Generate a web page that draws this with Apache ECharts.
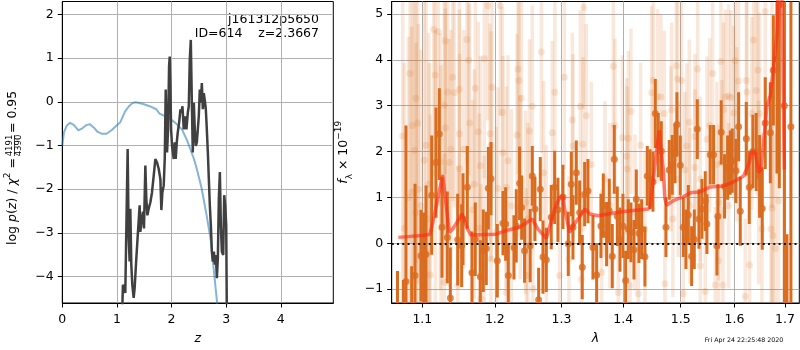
<!DOCTYPE html>
<html><head><meta charset="utf-8">
<script src="https://cdn.jsdelivr.net/npm/echarts@6/dist/echarts.min.js"></script>
<style>html,body{margin:0;padding:0;background:#fff}#c{width:800px;height:350px}</style>
</head><body><div id="c"></div>
<script>
// ---------- left panel: log p(z) ----------
const zTicks = [0, 1, 2, 3, 4];
const logpTicks = [-4, -3, -2, -1, 0, 1, 2];
const zBlue = [0.0,0.03,0.08,0.14,0.21,0.29,0.35,0.43,0.50,0.57,0.64,0.72,0.81,0.90,0.96,1.06,1.15,1.22,1.27,1.33,1.39,1.48,1.60,1.72,1.78,1.85,1.94,2.06,2.19,2.28,2.41,2.46,2.55,2.64,2.72,2.78,2.83,2.86];
const pBlue = [-1.01,-0.70,-0.55,-0.48,-0.53,-0.65,-0.62,-0.54,-0.51,-0.58,-0.68,-0.73,-0.73,-0.65,-0.58,-0.47,-0.22,-0.10,-0.04,-0.01,-0.02,-0.05,-0.10,-0.17,-0.27,-0.31,-0.36,-0.47,-0.63,-0.87,-1.31,-1.53,-1.98,-2.59,-3.19,-3.95,-4.56,-5.0];
const zDark = [1.092,1.110,1.135,1.153,1.183,1.196,1.214,1.232,1.245,1.263,1.281,1.306,1.324,1.355,1.385,1.416,1.428,1.447,1.477,1.495,1.520,1.538,1.557,1.581,1.612,1.642,1.673,1.703,1.734,1.765,1.795,1.813,1.832,1.856,1.875,1.893,1.905,1.917,1.936,1.954,1.966,1.979,1.991,2.009,2.040,2.058,2.076,2.095,2.113,2.138,2.162,2.180,2.199,2.223,2.248,2.272,2.297,2.315,2.333,2.352,2.370,2.388,2.407,2.425,2.443,2.462,2.480,2.498,2.517,2.535,2.554,2.572,2.590,2.609,2.627,2.645,2.664,2.682,2.700,2.719,2.737,2.755,2.774,2.792,2.810,2.829,2.847,2.865,2.884,2.902,2.920,2.945,2.963,2.982,3.000,3.012];
const pDark = [-5.0,-4.19,-4.17,-4.38,-4.38,-1.08,-3.05,-3.66,-2.45,-3.73,-4.19,-4.49,-4.27,-3.58,-2.98,-2.37,-2.98,-2.75,-2.52,-2.90,-1.46,-2.22,-2.60,-2.45,-2.30,-2.07,-1.69,-1.31,-1.39,-1.54,-1.77,-2.48,-2.07,-1.92,-1.31,0.28,-0.63,-1.16,-0.63,0.81,1.04,0.36,-0.63,-1.01,-1.31,-0.93,-1.31,-0.93,-0.70,-0.48,-0.17,-0.25,-0.10,-0.63,-0.33,-0.63,-0.25,-0.10,0.96,1.42,0.05,-1.16,-0.02,-0.63,-1.01,-0.93,-0.63,-0.33,0.28,-0.02,0.43,-0.17,0.20,0.02,-0.17,-0.63,-1.16,-1.77,-2.37,-2.83,-3.43,-3.66,-3.43,-3.73,-3.51,-4.04,-3.58,-2.22,-1.61,-2.83,-3.43,-3.51,-2.14,-2.37,-2.83,-5.0];

// ---------- right panel: spectrum ----------
const lamTicks = [1.1, 1.2, 1.3, 1.4, 1.5, 1.6, 1.7];
const fluxTicks = [-1, 0, 1, 2, 3, 4, 5];
const lightWave = [1.0744,1.0764,1.0816,1.0838,1.0860,1.0869,1.0895,1.0917,1.0917,1.0939,
 1.0948,1.0982,1.1026,1.1049,1.1084,1.1093,1.1106,1.1150,1.1173,1.1173,
 1.1214,1.1241,1.1250,1.1294,1.1294,1.1308,1.1308,1.1339,1.1362,1.1385,
 1.1408,1.1431,1.1477,1.1500,1.1500,1.1504,1.1559,1.1605,1.1629,1.1643,
 1.1684,1.1708,1.1722,1.1764,1.1779,1.1793,1.1803,1.1850,1.1850,1.1898,
 1.1931,1.1945,1.1945,1.1960,
 1.2021,1.2045,1.2079,1.2109,1.2118,1.2167,1.2167,1.2191,1.2240,1.2323,
 1.2338,1.2353,1.2372,1.2388,1.2452,1.2462,1.2487,1.2510,1.2552,1.2562,
 1.2689,1.2724,1.2765,1.2857,1.2898,1.2970,1.3044,1.3117,1.3170,1.3180,
 1.3297,1.3313,1.3339,1.3350,1.3393,1.3473,
 1.3641,1.3696,1.3778,1.3834,1.3861,1.3917,1.3984,1.4057,1.4068,1.4085,
 1.4113,1.4130,1.4198,1.4255,1.4295,1.4369,1.4485,1.4514,1.4589,1.4648,
 1.4706,1.4718,1.4825,1.4836,1.4860,1.4920,1.4944,1.4956,1.5016,1.5046,
 1.5076,1.5106,1.5155,1.5167,1.5258,1.5258,1.5307,
 1.5356,1.5356,1.5448,1.5479,1.5529,1.5585,1.5635,1.5666,1.5698,1.5698,
 1.5741,1.5760,1.5779,1.5792,1.5823,1.5887,1.5887,1.5931,1.5983,1.6014,
 1.6047,1.6079,1.6208,1.6228,1.6241,1.6292,1.6337,1.6370,1.6423,1.6456,
 1.6469,1.6489,1.6535,1.6602,1.6716,1.6736,1.6736,1.6756,1.6804,1.6870];
const lightFlux = [2.34,0.33,1.00,3.70,1.12,2.57,2.03,3.16,0.67,2.62,
 1.18,0.82,1.81,2.14,1.29,0.53,-0.69,4.66,3.67,1.54,
 4.61,1.78,0.88,3.01,-0.85,4.41,2.52,3.30,1.76,2.05,
 3.62,3.28,-0.92,3.36,2.39,1.63,2.05,4.44,3.99,2.62,
 0.73,1.29,3.38,2.43,0.33,1.69,-1.21,4.02,-0.49,5.18,
 2.39,2.12,-0.34,3.40,
 0.24,1.20,5.18,2.85,1.98,1.22,-1.07,1.80,0.82,2.36,
 3.80,3.55,1.22,3.16,0.89,-0.70,0.53,2.45,2.99,-0.99,
 4.17,1.54,0.24,2.41,3.29,-0.70,3.62,-0.34,2.69,2.12,
 2.98,-0.78,2.16,5.14,2.78,1.72,
 -0.63,1.40,0.82,3.86,2.56,-1.07,2.30,1.90,1.62,2.29,
 -0.92,2.88,0.67,-1.10,2.14,0.31,3.28,3.55,3.20,3.19,
 2.83,-0.88,2.06,2.91,0.53,3.87,3.58,1.40,3.55,-1.10,
 1.60,2.12,2.64,0.82,2.33,1.65,3.80,
 1.40,-0.49,-1.05,2.27,2.57,3.70,-0.91,1.72,0.89,-0.38,
 3.96,1.76,-0.91,2.91,3.19,3.21,0.82,3.18,2.84,3.98,
 2.38,3.54,-1.16,3.55,3.30,-0.47,2.83,4.43,3.33,3.78,
 1.11,2.83,0.31,5.05,0.31,3.17,0.77,0.17,-0.11,0.93];
const lightErr = [3.8,3.6,3.5,3.7,3.6,3.8,3.5,3.6,3.7,3.5,
 3.6,3.4,3.5,3.6,3.3,3.4,3.5,3.0,2.9,3.1,
 2.9,2.8,3.0,2.7,2.8,2.9,2.6,2.8,2.7,2.6,
 2.7,2.5,2.6,2.6,2.7,2.5,2.6,2.7,2.5,2.6,
 2.4,2.5,2.6,2.4,2.5,2.4,2.5,2.6,2.4,2.5,
 2.4,2.5,2.3,2.4,
 2.3,2.2,2.4,2.3,2.1,2.2,2.0,2.3,2.1,2.2,
 2.3,2.2,2.0,2.1,2.0,1.9,2.1,2.0,2.2,1.9,
 2.2,2.0,1.9,2.0,2.1,1.8,2.0,1.8,1.9,2.0,
 2.1,1.8,1.9,2.2,2.0,1.8,
 1.8,1.7,1.8,2.0,1.9,1.7,1.8,1.7,1.8,1.9,
 1.7,1.8,1.7,1.6,1.8,1.7,1.9,1.8,1.9,1.8,
 1.8,1.7,1.8,1.9,1.7,1.9,1.8,1.7,1.8,1.6,
 1.7,1.8,1.8,1.7,1.8,1.7,1.9,
 1.8,1.7,1.6,1.8,1.9,2.0,1.7,1.8,1.7,1.6,
 2.0,1.8,1.7,1.9,1.9,2.0,1.8,1.9,1.9,2.0,
 1.9,2.0,1.7,2.1,2.0,1.8,2.1,2.2,2.1,2.2,
 2.0,2.2,2.1,2.4,2.3,2.4,2.3,2.4,2.5,2.6];
const darkWave = [1.0677,1.0753,1.0786,1.0860,1.0904,1.0982,1.1018,1.1049,1.1124,1.1182,
 1.1227,1.1263,1.1335,1.1376,1.1477,1.1532,1.1550,1.1610,1.1675,1.1722,
 1.1793,1.1835,1.1878,1.1907,1.1945,1.2036,1.2118,1.2157,1.2196,1.2279,
 1.2313,1.2362,1.2393,1.2436,1.2520,1.2552,1.2592,1.2648,1.2673,1.2714,
 1.2765,1.2841,1.2893,1.2944,1.3023,1.3106,1.3154,1.3180,1.3233,1.3286,
 1.3328,1.3366,1.3419,1.3500,1.3560,1.3630,1.3669,1.3723,1.3767,1.3817,
 1.3850,1.3900,1.3945,1.3995,1.4040,1.4085,1.4130,1.4181,1.4221,1.4266,
 1.4312,1.4369,1.4410,1.4456,1.4508,1.4549,1.4601,1.4654,1.4736,1.4795,
 1.4848,1.4896,1.4932,1.4992,1.5046,1.5094,1.5137,1.5197,1.5246,1.5301,
 1.5331,1.5386,1.5448,1.5479,1.5541,1.5603,1.5666,1.5685,1.5747,1.5810,
 1.5868,1.5919,1.5957,1.6027,1.6079,1.6111,1.6228,1.6286,1.6357,1.6423,
 1.6489,1.6542,1.6602,1.6703,1.6764,1.6837,1.6884,1.6986,1.7040,1.7121];
const darkFlux = [-2.0,-2.3,-0.83,-1.9,-0.70,-0.27,-0.93,-0.24,1.05,1.76,
 2.38,0.35,0.13,-1.19,0.08,-0.05,0.53,1.22,-0.64,0.09,
 -0.73,-0.16,-0.11,1.20,1.41,-0.38,0.44,0.42,-0.70,-0.09,
 0.38,1.31,0.78,-0.16,-0.05,1.47,0.75,-1.23,1.18,-0.30,
 -0.36,0.57,1.22,0.73,1.01,-0.01,1.29,0.35,1.54,0.67,
 -0.52,1.07,1.14,-0.09,-0.69,0.38,0.82,0.20,0.71,-0.28,
 1.83,0.59,0.08,0.38,-0.81,0.31,0.24,-0.14,0.96,0.22,
 0.31,-0.29,1.47,1.40,1.34,2.83,2.14,2.01,0.35,1.60,
 1.71,1.96,2.59,1.70,0.35,0.09,0.62,-0.28,0.09,2.49,
 0.53,0.75,0.92,0.42,1.93,1.93,-0.05,0.59,2.42,1.24,
 1.65,1.76,1.80,1.58,2.54,0.70,2.28,1.22,2.00,1.99,
 1.46,0.76,2.62,2.41,3.77,4.02,5.20,3.00,-2.0,2.54];
const darkErr = [1.4,1.5,3.4,1.4,2.0,1.0,1.6,1.5,1.3,1.2,
 1.0,1.1,1.0,1.1,1.0,0.9,1.0,0.9,0.9,0.8,
 0.8,0.9,0.8,0.9,0.8,0.8,0.7,0.8,0.7,0.7,
 0.8,0.8,0.7,0.7,0.8,0.65,0.7,0.7,0.7,0.8,
 0.7,0.7,0.8,0.7,0.7,0.7,0.7,0.7,0.7,0.7,
 0.7,0.7,0.7,0.7,0.7,0.7,0.7,0.7,0.7,0.7,
 0.75,0.65,0.7,0.7,0.65,0.65,0.65,0.65,0.65,0.65,
 0.65,0.65,0.65,0.65,0.65,0.75,0.7,0.65,0.65,0.65,
 0.65,0.65,0.7,0.65,0.65,0.65,0.65,0.65,0.65,0.65,
 0.65,0.65,0.65,0.65,0.65,0.65,0.65,0.7,0.7,0.7,
 0.7,0.7,0.7,0.7,0.75,0.75,0.8,0.8,0.8,0.85,
 0.9,0.9,1.0,1.1,1.2,2.5,4.0,4.5,2.2,5.0];
const modelWave = [1.0688,1.1000,1.1102,1.1159,1.1272,1.1362,1.1408,1.1537,1.1614,1.1661,1.2016,1.2167,1.2362,1.2552,1.2638,1.2765,1.2893,1.2970,1.3023,1.3049,1.3127,1.3180,1.3297,1.3371,1.3446,1.3582,1.3750,1.3973,1.4198,1.4427,1.4460,1.4514,1.4589,1.4618,1.4648,1.4689,1.4718,1.4748,1.4866,1.5016,1.5197,1.5350,1.5541,1.5792,1.5983,1.6176,1.6273,1.6337,1.6404,1.6469,1.6515,1.6568,1.6635,1.6703,1.6770,1.6837,1.6900,1.6937,1.6958,1.6986];
const modelFlux = [0.13,0.17,0.20,0.60,1.49,0.24,0.31,0.64,0.31,0.18,0.20,0.28,0.35,0.53,0.31,0.11,0.75,1.00,1.04,0.75,0.24,0.38,0.60,0.75,0.64,0.60,0.64,0.69,0.72,0.75,0.80,1.40,2.20,2.46,2.06,1.59,0.97,0.83,0.93,1.00,1.11,1.12,1.23,1.25,1.34,1.47,1.72,2.00,1.98,1.54,1.61,2.20,3.00,3.22,3.86,4.59,7.0,5.3,3.9,1.61];

// ---------- build ----------
const FONT = 'DejaVu Sans';
const FS = 12.5;
const LAM_MIN = 1.0603, LAM_MAX = 1.7294, F_MIN = -1.30, F_MAX = 5.27;
const ln = Math.log;
const minus = v => String(v).replace('-', '\u2212');
const zip2 = (a, b) => a.map((v, i) => [v, b[i]]);
const errData = (w, f, e) => w.map((v, i) => [ln(v), f[i] - e[i], f[i] + e[i]]);
const ptData = (w, f) => w.map((v, i) => [ln(v), f[i]]);

function barRenderer(color, width) {
  return function (params, api) {
    const x = api.value(0);
    const lo = Math.max(api.value(1), F_MIN), hi = Math.min(api.value(2), F_MAX);
    if (hi <= lo) return null;
    const p1 = api.coord([x, lo]), p2 = api.coord([x, hi]);
    return { type: 'line', shape: { x1: p1[0], y1: p1[1], x2: p2[0], y2: p2[1] },
      style: { stroke: color, lineWidth: width } };
  };
}

const tickStyle = { show: true, length: 4.5, lineStyle: { color: '#000', width: 1 } };
const labStyle = { color: '#000', fontFamily: FONT, fontSize: FS };
const splitStyle = { show: true, lineStyle: { color: '#b0b0b0', width: 1 } };
const axLine = { show: true, onZero: false, lineStyle: { color: '#000', width: 1 } };

const DARK = '#d96c1f';
const option = {
  animation: false,
  backgroundColor: '#fff',
  grid: [
    { left: 62.3, top: 1.5, width: 271, height: 302.5, show: true, borderColor: '#000', borderWidth: 1, backgroundColor: 'transparent' },
    { left: 391.7, top: 1.5, width: 407.6, height: 302.5, show: true, borderColor: '#000', borderWidth: 1, backgroundColor: 'transparent' }
  ],
  xAxis: [
    { type: 'value', gridIndex: 0, min: 0, max: 4.96,
      axisLine: axLine,
      axisTick: Object.assign({ customValues: zTicks }, tickStyle),
      axisLabel: Object.assign({ customValues: zTicks, margin: 10.5, formatter: minus }, labStyle),
      splitLine: splitStyle,
      name: 'z', nameLocation: 'middle', nameGap: 29,
      nameTextStyle: { fontFamily: FONT, fontSize: FS, fontStyle: 'italic', color: '#000' } },
    { type: 'value', gridIndex: 1, min: ln(LAM_MIN), max: ln(LAM_MAX),
      axisLine: axLine,
      axisTick: Object.assign({ customValues: lamTicks.map(ln) }, tickStyle),
      axisLabel: Object.assign({ customValues: lamTicks.map(ln), margin: 10.5,
        formatter: v => Math.exp(v).toFixed(1) }, labStyle),
      splitLine: splitStyle,
      name: '\u03bb', nameLocation: 'middle', nameGap: 29,
      nameTextStyle: { fontFamily: FONT, fontSize: FS, fontStyle: 'italic', color: '#000' } }
  ],
  yAxis: [
    { type: 'value', gridIndex: 0, min: -4.61, max: 2.30,
      axisLine: axLine,
      axisTick: Object.assign({ customValues: logpTicks }, tickStyle),
      axisLabel: Object.assign({ customValues: logpTicks, margin: 8.5, formatter: minus }, labStyle),
      splitLine: splitStyle },
    { type: 'value', gridIndex: 1, min: F_MIN, max: F_MAX,
      axisLine: axLine,
      axisTick: Object.assign({ customValues: fluxTicks }, tickStyle),
      axisLabel: Object.assign({ customValues: fluxTicks, margin: 8.5, formatter: minus }, labStyle),
      splitLine: splitStyle,
      name: '{i|f}{sub|\u03bb} \u00d7 10{sup|\u221219}', nameLocation: 'middle', nameGap: 37,
      nameTextStyle: { fontFamily: FONT, fontSize: FS, color: '#000', lineHeight: 20,
        rich: {
          i: { fontFamily: FONT, fontSize: FS, fontStyle: 'italic', lineHeight: 20 },
          sub: { fontFamily: FONT, fontSize: 9, verticalAlign: 'bottom', lineHeight: 20 },
          sup: { fontFamily: FONT, fontSize: 9, verticalAlign: 'top', lineHeight: 20 }
        } } }
  ],
  series: [
    { type: 'line', xAxisIndex: 0, yAxisIndex: 0, data: zip2(zBlue, pBlue), showSymbol: false, clip: true,
      lineStyle: { color: 'rgba(31,119,180,0.55)', width: 2 } },
    { type: 'line', xAxisIndex: 0, yAxisIndex: 0, data: zip2(zDark, pDark), showSymbol: false, clip: true,
      lineStyle: { color: '#404040', width: 2.5 } },
    { type: 'custom', xAxisIndex: 1, yAxisIndex: 1, clip: true, encode: { x: 0, y: [1, 2] },
      data: errData(lightWave, lightFlux, lightErr), renderItem: barRenderer('rgba(217,110,30,0.16)', 3.5) },
    { type: 'scatter', xAxisIndex: 1, yAxisIndex: 1, data: ptData(lightWave, lightFlux), symbolSize: 7, clip: true,
      itemStyle: { color: 'rgba(217,110,30,0.2)' } },
    { type: 'custom', xAxisIndex: 1, yAxisIndex: 1, clip: true, encode: { x: 0, y: [1, 2] },
      data: errData(darkWave, darkFlux, darkErr), renderItem: barRenderer(DARK, 3) },
    { type: 'scatter', xAxisIndex: 1, yAxisIndex: 1, data: ptData(darkWave, darkFlux), symbolSize: 7, clip: true,
      itemStyle: { color: DARK } },
    { type: 'line', xAxisIndex: 1, yAxisIndex: 1, data: ptData(modelWave, modelFlux), showSymbol: false, clip: true,
      lineStyle: { color: 'rgba(255,40,20,0.6)', width: 3.5 },
      markLine: { silent: true, symbol: ['none', 'none'], label: { show: false },
        lineStyle: { color: '#111', width: 2, type: [2, 3.3] }, data: [{ yAxis: 0 }] } }
  ],
  graphic: [
    { type: 'text', x: 319, y: 20, style: { text: 'j161312p5650', fontFamily: FONT, fontSize: FS, fill: '#000', align: 'right', verticalAlign: 'middle' } },
    { type: 'text', x: 319, y: 34, style: { text: 'ID=614    z=2.3667', fontFamily: FONT, fontSize: FS, fill: '#000', align: 'right', verticalAlign: 'middle' } },
    { type: 'text', x: 744, y: 340, style: { text: 'Fri Apr 24 22:25:48 2020', fontFamily: FONT, fontSize: 6.3, fill: '#000', align: 'center', verticalAlign: 'middle' } },
    { type: 'group', x: 12.5, y: 237, rotation: Math.PI / 2, children: [
      { type: 'text', x: 79, y: 0, style: { text: 'log {i|p}({i|z}) / {i|\u03c7}{sup|2} =', fontFamily: FONT, fontSize: FS, fill: '#000', align: 'right', verticalAlign: 'middle', lineHeight: 18,
          rich: { i: { fontFamily: FONT, fontSize: FS, fontStyle: 'italic', lineHeight: 18 }, sup: { fontFamily: FONT, fontSize: 9, verticalAlign: 'top', lineHeight: 18 } } } },
      { type: 'text', x: 91.5, y: -2.5, style: { text: '4191', fontFamily: FONT, fontSize: 8.5, fill: '#000', align: 'center', verticalAlign: 'middle' } },
      { type: 'line', shape: { x1: 81, y1: 2, x2: 102, y2: 2 }, style: { stroke: '#000', lineWidth: 0.7 } },
      { type: 'text', x: 91.5, y: 6.5, style: { text: '4390', fontFamily: FONT, fontSize: 8.5, fill: '#000', align: 'center', verticalAlign: 'middle' } },
      { type: 'text', x: 104, y: 0, style: { text: '= 0.95', fontFamily: FONT, fontSize: FS, fill: '#000', align: 'left', verticalAlign: 'middle' } }
    ] }
  ]
};
const chart = echarts.init(document.getElementById('c'), null, { renderer: 'canvas' });
chart.setOption(option);
</script>
</body></html>
